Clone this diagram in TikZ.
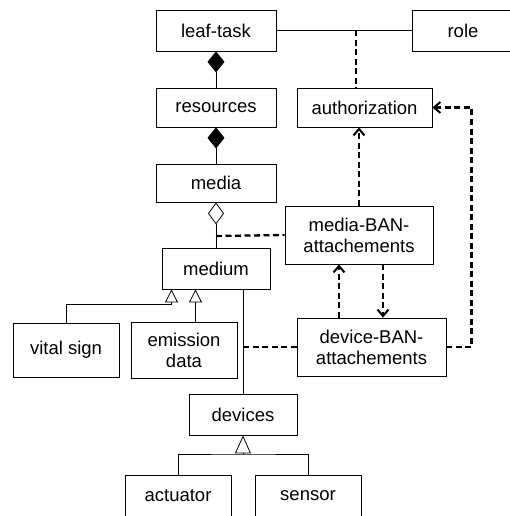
\documentclass[tikz,border=0pt]{standalone}
\usepackage{fontspec}
\setmainfont{Liberation Sans}
\usetikzlibrary{arrows.meta}

\begin{document}
\begin{tikzpicture}[x=1pt,y=-1pt,line width=0.8pt,
  font=\fontsize{18.5}{21}\selectfont,
  box/.style={draw,rectangle,inner sep=0pt,align=center},
  dep/.style={line width=2.3pt,dash pattern=on 6pt off 3.5pt},
  tip/.style={-{Straight Barb[length=6.5pt,width=11pt,line width=2pt]}},
  comp/.style={{Diamond[length=21pt,width=17pt]}-},
  aggr/.style={{Diamond[open,length=22pt,width=16pt]}-},
  gen/.style={-{Triangle[open,length=13pt,width=13pt]}}]
\useasboundingbox (0,0) rectangle (509,516);

% classes
\node[box,minimum width=120pt,minimum height=41pt] (leaf) at (216,30.5) {leaf-task};
\node[box,minimum width=102pt,minimum height=41pt] (role) at (463,30.5) {role};
\node[box,minimum width=120pt,minimum height=39pt] (res) at (216,107.5) {resources};
\node[box,minimum width=135pt,minimum height=39pt] (auth) at (364.5,107.5) {authorization};
\node[box,minimum width=120pt,minimum height=38pt] (media) at (216,183) {media};
\node[box,minimum width=148pt,minimum height=58pt] (mban) at (359,235) {media-BAN-\\attachements};
\node[box,minimum width=108pt,minimum height=41pt] (medium) at (216,268.5) {medium};
\node[box,minimum width=106pt,minimum height=54pt] (vital) at (66,350) {vital sign};
\node[box,minimum width=106pt,minimum height=56pt] (emis) at (184,350) {emission\\data};
\node[box,minimum width=149pt,minimum height=58pt] (dban) at (371.5,347) {device-BAN-\\attachements};
\node[box,minimum width=108pt,minimum height=41pt] (dev) at (243,414.5) {devices};
\node[box,minimum width=106pt,minimum height=41pt] (act) at (178,495.5) {actuator};
\node[box,minimum width=106pt,minimum height=41pt] (sens) at (308,495.5) {sensor};

% association leaf-task -- role
\draw (leaf.east) -- (role.west);
\coordinate (assoc) at (356,30.5);
\draw[dep] (assoc) -- (assoc |- auth.north);

% composition / aggregation
\draw[comp] (leaf.south) -- (res.north);
\draw[comp] (res.south) -- (media.north);
\draw[aggr] (media.south) -- (medium.north);
\coordinate (mlink) at (216,236);
\draw[dep] (mlink) -- (mban.west);

% generalization of medium
\coordinate (gv) at (171.5,304);
\coordinate (ge) at (195.5,304);
\draw[gen] (vital.north) |- (gv) -- (gv |- medium.south);
\draw[gen] (ge |- emis.north) -- (ge |- medium.south);

% medium -- devices
\draw (dev.north |- medium.south) -- (dev.north);
\draw[dep] (dev.north |- dban.west) -- (dban.west);

% generalization of devices
\coordinate (gd) at (243,454);
\draw (act.north) |- (gd) -| (sens.north);
\draw[-{Triangle[open,length=18pt,width=16pt]}] (gd) -- (dev.south);

% dependencies between the attachements
\draw[dep,tip] (mban.north) -- (mban.north |- auth.south);
\draw[dep,tip] ([xshift=-32.5pt]dban.north) -- ([xshift=-32.5pt]dban.north |- mban.south);
\draw[dep,tip] ([xshift=11.5pt]dban.north |- mban.south) -- ([xshift=11.5pt]dban.north);
\draw[dep,tip] (dban.east) -- ++(25,0) |- (auth.east);
\end{tikzpicture}
\end{document}
